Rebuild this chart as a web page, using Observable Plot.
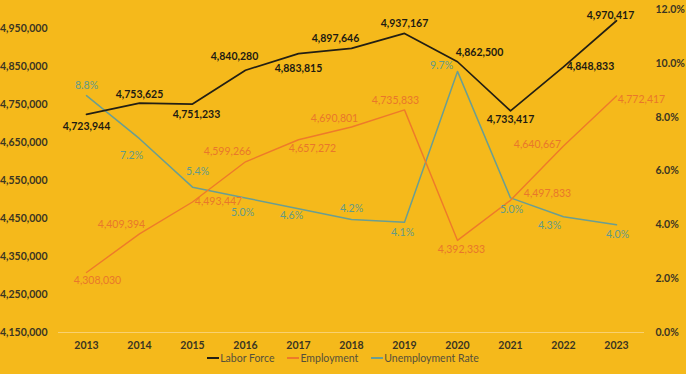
<!DOCTYPE html>
<html>
<head>
<meta charset="utf-8">
<script src="https://cdn.jsdelivr.net/npm/d3@7"></script>
<script src="https://cdn.jsdelivr.net/npm/@observablehq/plot@0.6"></script>
<style>
  html, body { margin: 0; padding: 0; background: #F5B91B; }
  #chart svg { display: block; }
  .legend { display: flex; justify-content: center; gap: 13px; font: 10.5px Lato, "Open Sans", sans-serif; color: #55503a; line-height: 12px; margin-top: 0; }
  .legend span { display: inline-flex; align-items: center; }
  .legend i { display: inline-block; width: 12px; height: 1.5px; margin-right: 1px; }
</style>
</head>
<body>
<div id="chart"></div>
<div class="legend">
  <span><i style="background:#231f14"></i>Labor Force</span>
  <span><i style="background:#EE7A2A"></i>Employment</span>
  <span><i style="background:#6A9E92"></i>Unemployment Rate</span>
</div>
<script>
const years = [2013, 2014, 2015, 2016, 2017, 2018, 2019, 2020, 2021, 2022, 2023];
const laborForce = [4723944, 4753625, 4751233, 4840280, 4883815, 4897646, 4937167, 4862500, 4733417, 4848833, 4970417];
const employment = [4308030, 4409394, 4493447, 4599266, 4657272, 4690801, 4735833, 4392333, 4497833, 4640667, 4772417];
const unemploymentRate = [8.8, 7.2, 5.4, 5.0, 4.6, 4.2, 4.1, 9.7, 5.0, 4.3, 4.0];
const leftTicks = [4150000, 4250000, 4350000, 4450000, 4550000, 4650000, 4750000, 4850000, 4950000];
const rightTicks = [0, 2, 4, 6, 8, 10, 12];

// label placement (pixel offsets from each point), layout only
const laborOffsets = [[0,12],[0,-8],[4,11],[-11,-14],[0,15],[-16,-10],[0,-10],[22,-9],[0,9],[27,0],[-6,-5]];
const employmentOffsets = [[11,8],[-18,-9],[26,0],[-18,-10],[14,9],[-17,-8],[-9,-9],[4,9],[37,-7],[-26,-1],[25,4]];
const rateOffsets = [[0,-10],[-8,17],[5,-16],[-3,15],[-7,7],[0,-11],[-2,10],[-16,-6],[1,12],[-14,9],[1,10]];

const yMin = 4150000, yMax = 5000000, rMax = 12;
const toLeft = v => yMin + v / rMax * (yMax - yMin);
const fromLeft = d => (d - yMin) / (yMax - yMin) * rMax;

const rows = years.map((year, i) => ({
  year, lf: laborForce[i], em: employment[i], ur: unemploymentRate[i], urY: toLeft(unemploymentRate[i])
}));

const fmt = d3.format(",");
const font = "Lato, 'Open Sans', sans-serif";
const cLabor = "#231f14", cEmp = "#EE7A2A", cRate = "#6A9E92";

const labelMarks = [];
rows.forEach((r, i) => {
  labelMarks.push(Plot.text([r], {x: "year", y: "lf", text: d => fmt(d.lf), dx: laborOffsets[i][0], dy: laborOffsets[i][1], fill: "#1e1b12", fontWeight: "bold"}));
  labelMarks.push(Plot.text([r], {x: "year", y: "em", text: d => fmt(d.em), dx: employmentOffsets[i][0], dy: employmentOffsets[i][1], fill: "#E9772B"}));
  labelMarks.push(Plot.text([r], {x: "year", y: "urY", text: d => d.ur.toFixed(1) + "%", dx: rateOffsets[i][0], dy: rateOffsets[i][1], fill: "#639A8A"}));
});

const chart = Plot.plot({
  width: 686,
  height: 352,
  marginLeft: 58,
  marginRight: 42,
  marginTop: 9,
  marginBottom: 20,
  style: {background: "#F5B91B", fontFamily: font, fontSize: "10.5px"},
  x: {type: "point", domain: years, padding: 0.5},
  y: {domain: [yMin, yMax]},
  marks: [
    Plot.ruleY([yMin], {stroke: "#F9D170", strokeWidth: 1}),
    Plot.axisY(leftTicks, {anchor: "left", tickSize: 0, tickPadding: 11, tickFormat: fmt, fontWeight: "bold", fill: "#3b3522", label: null}),
    Plot.axisY(rightTicks.map(toLeft), {anchor: "right", tickSize: 0, tickPadding: 11, tickFormat: d => fromLeft(d).toFixed(1) + "%", fontWeight: "bold", fill: "#3b3522", label: null}),
    Plot.axisX(years, {tickSize: 0, tickPadding: 9, tickFormat: d => String(d), fontWeight: "bold", fill: "#3b3522", label: null}),
    Plot.line(rows, {x: "year", y: "urY", stroke: cRate, strokeWidth: 1.5}),
    Plot.line(rows, {x: "year", y: "em", stroke: cEmp, strokeWidth: 1.4}),
    Plot.line(rows, {x: "year", y: "lf", stroke: cLabor, strokeWidth: 1.7}),
    ...labelMarks
  ]
});
document.getElementById("chart").appendChild(chart);
</script>
</body>
</html>
